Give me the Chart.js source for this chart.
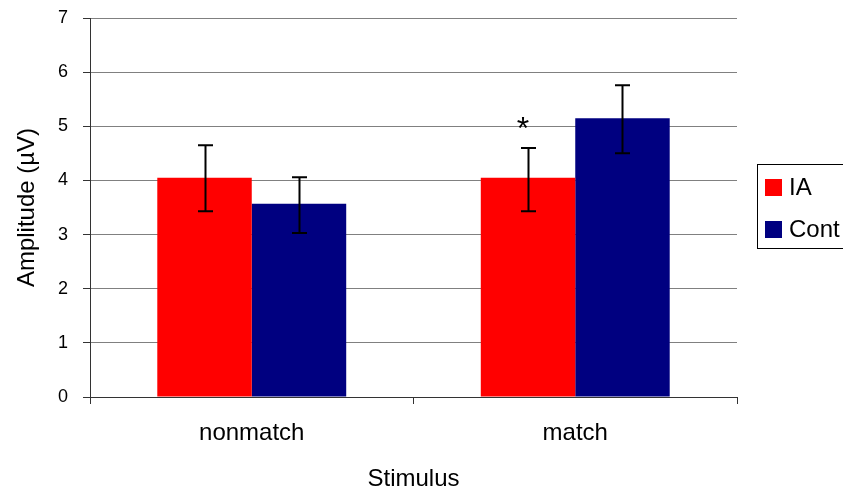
<!DOCTYPE html>
<html>
<head>
<meta charset="utf-8">
<script src="https://cdn.jsdelivr.net/npm/chart.js@4.4.1/dist/chart.umd.min.js"></script>
<style>
  body { margin: 0; background: #fff; }
  #wrap { width: 843px; height: 492px; }
</style>
</head>
<body>
<div id="wrap"><canvas id="myChart" width="843" height="492"></canvas></div>
<script>
// values
var categories = ['nonmatch', 'match'];
var seriesNames = ['IA', 'Cont'];
var iaValues = [4.05, 4.05];
var contValues = [3.57, 5.15];
var iaLow = [3.43, 3.43];
var iaHigh = [4.65, 4.60];
var contLow = [3.03, 4.50];
var contHigh = [4.06, 5.76];
var yTicks = [0, 1, 2, 3, 4, 5, 6, 7];
// significance mark: category, series index, value where the mark sits
var sigMarks = [{ category: 'match', series: 0, text: '*', value: 5.08 }];

var errLow = [iaLow, contLow];
var errHigh = [iaHigh, contHigh];

var errorBars = {
    id: 'errorBars',
    afterDatasetsDraw: function (chart) {
        var ctx = chart.ctx;
        var y = chart.scales.y;
        ctx.save();
        ctx.strokeStyle = '#000';
        ctx.lineWidth = 2;
        chart.data.datasets.forEach(function (ds, i) {
            var meta = chart.getDatasetMeta(i);
            meta.data.forEach(function (bar, j) {
                var top = y.getPixelForValue(errHigh[i][j]);
                var bot = y.getPixelForValue(errLow[i][j]);
                var x = Math.round(bar.x) + 0.5;
                ctx.beginPath();
                ctx.moveTo(x, top); ctx.lineTo(x, bot);
                ctx.moveTo(x - 7.5, top); ctx.lineTo(x + 7.5, top);
                ctx.moveTo(x - 7.5, bot); ctx.lineTo(x + 7.5, bot);
                ctx.stroke();
            });
        });
        // asterisk
        ctx.fillStyle = '#000';
        ctx.font = '32px "Liberation Sans", Arial, sans-serif';
        ctx.textAlign = 'center';
        ctx.textBaseline = 'middle';
        sigMarks.forEach(function (m) {
            var j = categories.indexOf(m.category);
            var bar = chart.getDatasetMeta(m.series).data[j];
            ctx.fillText(m.text, bar.x - 5, y.getPixelForValue(m.value) + 8);
        });
        ctx.restore();
    }
};

var boxLegend = {
    id: 'boxLegend',
    afterDraw: function (chart) {
        var ctx = chart.ctx;
        ctx.save();
        ctx.strokeStyle = '#000';
        ctx.lineWidth = 1;
        ctx.strokeRect(757.5, 164.5, 120, 84);
        ctx.font = '24px "Liberation Sans", Arial, sans-serif';
        ctx.textBaseline = 'middle';
        ctx.textAlign = 'left';
        chart.data.datasets.forEach(function (ds, i) {
            var cy = 187.5 + i * 42;
            ctx.fillStyle = ds.backgroundColor;
            ctx.fillRect(765, cy - 8.5, 17, 17);
            ctx.fillStyle = '#000';
            ctx.fillText(ds.label, 789, cy + 1);
        });
        ctx.restore();
    }
};

var ctx = document.getElementById('myChart').getContext('2d');

var myChart = new Chart(ctx, {
    type: 'bar',
    data: {
        labels: categories,
        datasets: [{
            label: seriesNames[0],
            data: iaValues,
            backgroundColor: '#FF0000'
        }, {
            label: seriesNames[1],
            data: contValues,
            backgroundColor: '#000080'
        }]
    },
    options: {
        responsive: false,
        animation: false,
        categoryPercentage: 0.584,
        barPercentage: 1,
        layout: { padding: { top: 18, right: 106, bottom: 0, left: 0 } },
        plugins: {
            legend: { display: false },
            tooltip: { enabled: false }
        },
        scales: {
            x: {
                afterFit: function (s) { s.height = 95; s.paddingLeft = 0; s.paddingRight = 0; },
                grid: { offset: true, drawOnChartArea: false, tickLength: 7, color: '#333', tickColor: '#333' },
                border: { color: '#333', width: 1 },
                ticks: {
                    color: '#000', padding: 15,
                    font: { family: '"Liberation Sans", Arial, sans-serif', size: 24 }
                },
                title: {
                    display: true, text: 'Stimulus', color: '#000',
                    padding: { top: 0, bottom: 1 },
                    font: { family: '"Liberation Sans", Arial, sans-serif', size: 24, lineHeight: 1 }
                }
            },
            y: {
                min: 0,
                max: 7,
                afterFit: function (s) { s.width = 90; s.paddingTop = 0; s.paddingBottom = 0; },
                afterBuildTicks: function (s) { s.ticks = yTicks.map(function (v) { return { value: v }; }); },
                grid: { color: '#808080', tickColor: '#333', tickLength: 7 },
                border: { color: '#333', width: 1 },
                ticks: {
                    color: '#000', padding: 15,
                    font: { family: '"Liberation Sans", Arial, sans-serif', size: 18 }
                },
                title: {
                    display: true, text: 'Amplitude (µV)', color: '#000',
                    padding: { top: 15, bottom: 0 },
                    font: { family: '"Liberation Sans", Arial, sans-serif', size: 24, lineHeight: 1 }
                }
            }
        }
    },
    plugins: [errorBars, boxLegend]
});
</script>
</body>
</html>
